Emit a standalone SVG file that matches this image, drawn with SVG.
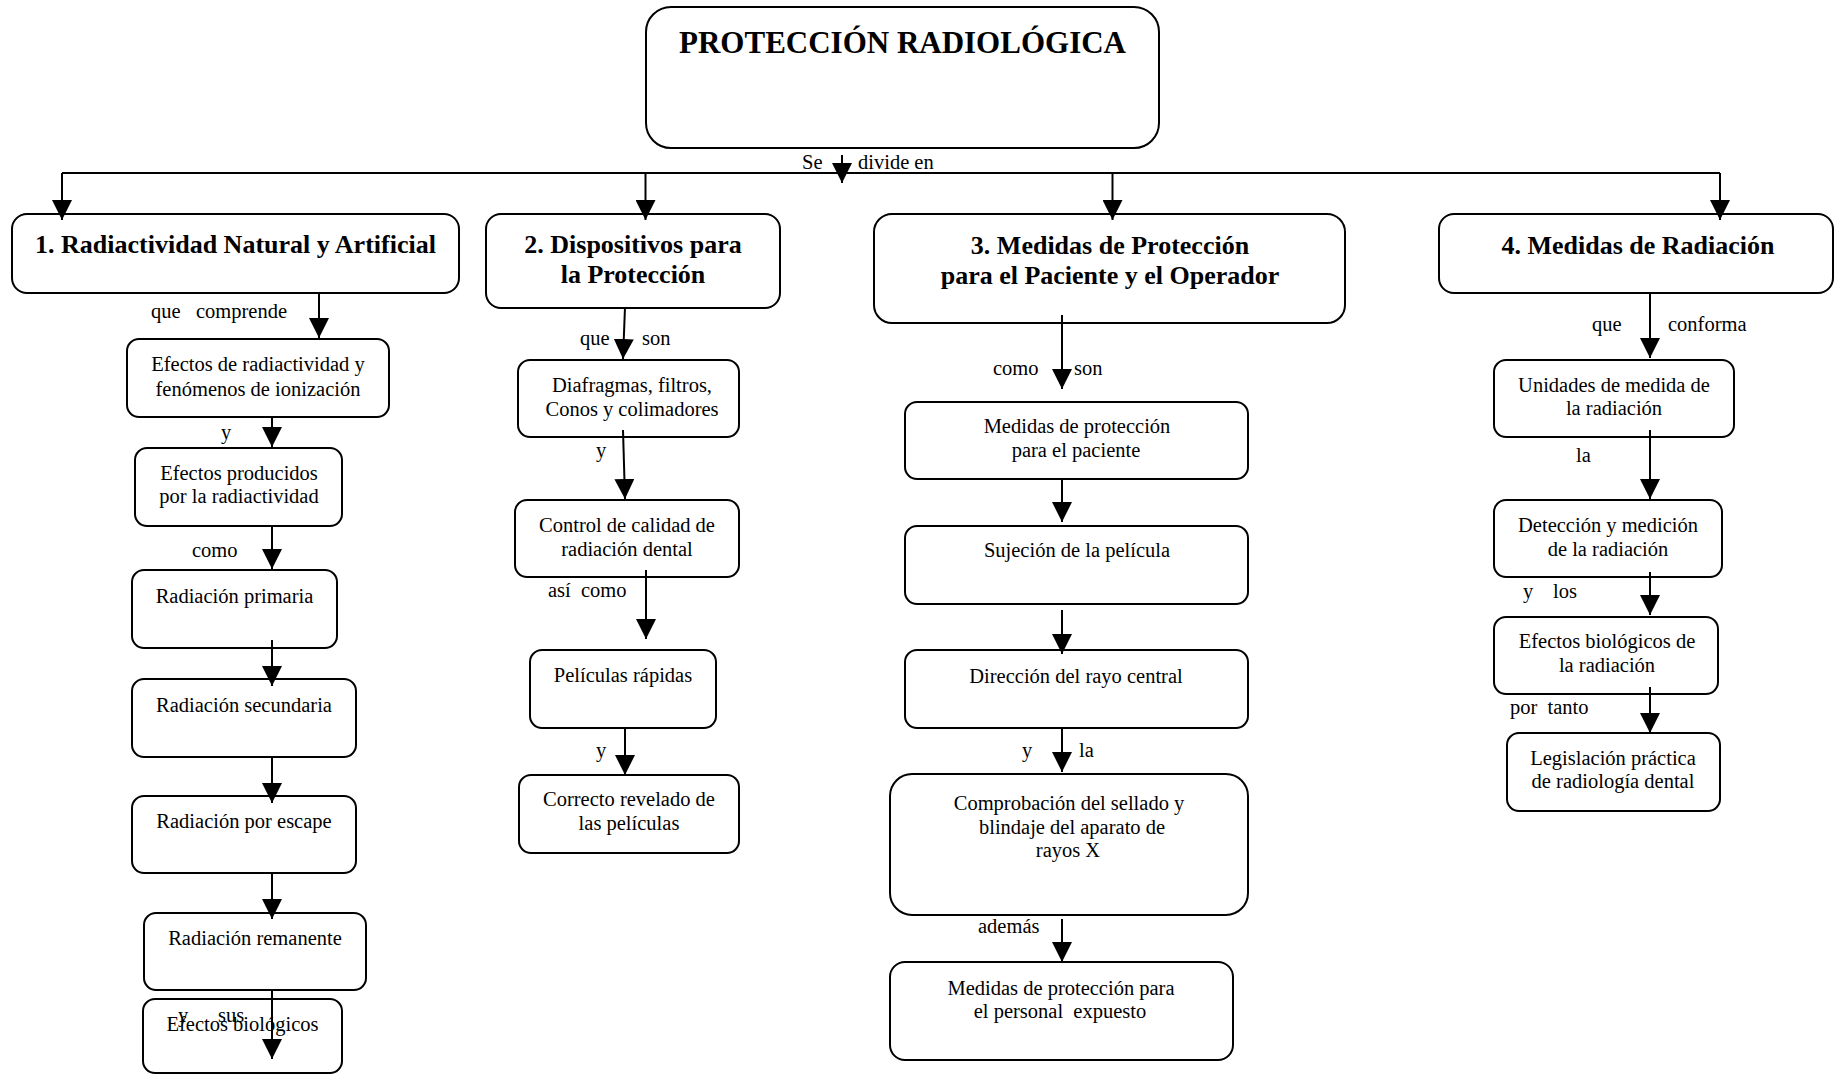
<svg xmlns="http://www.w3.org/2000/svg" width="1834" height="1075" viewBox="0 0 1834 1075">
<style>
  .box { fill: #fff; stroke: #000; stroke-width: 2; }
  .t { font-family: "Liberation Serif", "Times New Roman", serif; font-size: 20.5px; fill: #000; }
  .c { text-anchor: middle; }
  .h { font-family: "Liberation Serif", "Times New Roman", serif; font-size: 26px; font-weight: bold; text-anchor: middle; fill: #000; }
  .title { font-family: "Liberation Serif", "Times New Roman", serif; font-size: 31px; font-weight: bold; text-anchor: middle; fill: #000; }
  .ln { fill: none; stroke: #000; stroke-width: 2; }
  .ar { fill: none; stroke: #000; stroke-width: 2; marker-end: url(#ah); }
</style>
<defs>
  <marker id="ah" markerUnits="userSpaceOnUse" viewBox="0 0 20 20" refX="20" refY="10" markerWidth="20" markerHeight="20" orient="auto">
    <path d="M0,0 L20,10 L0,20 z" fill="#000"/>
  </marker>
</defs>
<rect width="1834" height="1075" fill="#fff"/>

<g id="n0"><rect class="box" x="646" y="7" width="513" height="141" rx="25"/><text class="title" x="902.5" y="53">PROTECCIÓN RADIOLÓGICA</text></g>
<g id="n1"><rect class="box" x="12" y="214" width="447" height="79" rx="15"/><text class="h" x="235.5" y="253">1. Radiactividad Natural y Artificial</text></g>
<g id="n2"><rect class="box" x="486" y="214" width="294" height="94" rx="15"/><text class="h" x="633" y="253">2. Dispositivos para</text><text class="h" x="633" y="283">la Protección</text></g>
<g id="n3"><rect class="box" x="874" y="214" width="471" height="109" rx="18"/><text class="h" x="1110" y="254">3. Medidas de Protección</text><text class="h" x="1110" y="284">para el Paciente y el Operador</text></g>
<g id="n4"><rect class="box" x="1439" y="214" width="394" height="79" rx="15"/><text class="h" x="1638" y="254">4. Medidas de Radiación</text></g>

<g id="a1"><rect class="box" x="127" y="339" width="262" height="78" rx="12"/><text class="t c" x="258" y="371">Efectos de radiactividad y</text><text class="t c" x="258" y="396">fenómenos de ionización</text></g>
<g id="a2"><rect class="box" x="135" y="448" width="207" height="78" rx="12"/><text class="t c" x="239" y="480">Efectos producidos</text><text class="t c" x="239" y="503">por la radiactividad</text></g>
<g id="a3"><rect class="box" x="132" y="570" width="205" height="78" rx="12"/><text class="t c" x="234.5" y="603">Radiación primaria</text></g>
<g id="a4"><rect class="box" x="132" y="679" width="224" height="78" rx="12"/><text class="t c" x="244" y="712">Radiación secundaria</text></g>
<g id="a5"><rect class="box" x="132" y="796" width="224" height="77" rx="12"/><text class="t c" x="244" y="828">Radiación por escape</text></g>
<g id="a6"><rect class="box" x="144" y="913" width="222" height="77" rx="12"/><text class="t c" x="255" y="945">Radiación remanente</text></g>
<g id="a7"><rect class="box" x="143" y="999" width="199" height="74" rx="12"/><text class="t c" x="242.5" y="1031">Efectos biológicos</text></g>

<g id="b1"><rect class="box" x="518" y="360" width="221" height="77" rx="12"/><text class="t c" x="632" y="392">Diafragmas, filtros,</text><text class="t c" x="632" y="416">Conos y colimadores</text></g>
<g id="b2"><rect class="box" x="515" y="500" width="224" height="77" rx="12"/><text class="t c" x="627" y="532">Control de calidad de</text><text class="t c" x="627" y="556">radiación dental</text></g>
<g id="b3"><rect class="box" x="530" y="650" width="186" height="78" rx="12"/><text class="t c" x="623" y="682">Películas rápidas</text></g>
<g id="b4"><rect class="box" x="519" y="775" width="220" height="78" rx="12"/><text class="t c" x="629" y="806">Correcto revelado de</text><text class="t c" x="629" y="830">las películas</text></g>

<g id="c1"><rect class="box" x="905" y="402" width="343" height="77" rx="12"/><text class="t c" x="1077" y="433">Medidas de protección</text><text class="t c" x="1076" y="457">para el paciente</text></g>
<g id="c2"><rect class="box" x="905" y="526" width="343" height="78" rx="12"/><text class="t c" x="1077" y="557">Sujeción de la película</text></g>
<g id="c3"><rect class="box" x="905" y="650" width="343" height="78" rx="12"/><text class="t c" x="1076" y="683">Dirección del rayo central</text></g>
<g id="c4"><rect class="box" x="890" y="774" width="358" height="141" rx="22"/><text class="t c" x="1069" y="810">Comprobación del sellado y</text><text class="t c" x="1072" y="834">blindaje del aparato de</text><text class="t c" x="1068" y="857">rayos X</text></g>
<g id="c5"><rect class="box" x="890" y="962" width="343" height="98" rx="15"/><text class="t c" x="1061" y="995">Medidas de protección para</text><text class="t c" x="1060" y="1018" xml:space="preserve">el personal  expuesto</text></g>

<g id="d1"><rect class="box" x="1494" y="360" width="240" height="77" rx="12"/><text class="t c" x="1614" y="392">Unidades de medida de</text><text class="t c" x="1614" y="415">la radiación</text></g>
<g id="d2"><rect class="box" x="1494" y="500" width="228" height="77" rx="12"/><text class="t c" x="1608" y="532">Detección y medición</text><text class="t c" x="1608" y="556">de la radiación</text></g>
<g id="d3"><rect class="box" x="1494" y="617" width="224" height="77" rx="12"/><text class="t c" x="1607" y="648">Efectos biológicos de</text><text class="t c" x="1607" y="672">la radiación</text></g>
<g id="d4"><rect class="box" x="1507" y="733" width="213" height="78" rx="12"/><text class="t c" x="1613" y="765">Legislación práctica</text><text class="t c" x="1613" y="788">de radiología dental</text></g>

<g id="connectors">
  <path class="ar" d="M842,155 V183"/>
  <path class="ln" d="M62,173 H1720"/>
  <path class="ar" d="M62,173 V220"/>
  <path class="ar" d="M645.5,173 V220"/>
  <path class="ar" d="M1112.5,173 V220"/>
  <path class="ar" d="M1720,173 V220"/>

  <path class="ar" d="M319,293 V338"/>
  <path class="ar" d="M272,417 V447"/>
  <path class="ar" d="M272,526 V569"/>
  <path class="ar" d="M272,640 V686"/>
  <path class="ar" d="M272,757 V803"/>
  <path class="ar" d="M272,873 V919"/>
  <path class="ar" d="M272,990 V1059"/>

  <path class="ar" d="M625,307 L623,359"/>
  <path class="ar" d="M623,430 L625,499"/>
  <path class="ar" d="M646,570 V639"/>
  <path class="ar" d="M625,728 V775"/>

  <path class="ar" d="M1062,315 V389"/>
  <path class="ar" d="M1062,479 V522"/>
  <path class="ar" d="M1062,610 V654"/>
  <path class="ar" d="M1062,728 V772"/>
  <path class="ar" d="M1062,919 V962"/>

  <path class="ar" d="M1650,293 V358"/>
  <path class="ar" d="M1650,430 V499"/>
  <path class="ar" d="M1650,572 V615"/>
  <path class="ar" d="M1650,687 V733"/>

  <g id="labels">
    <text class="t" x="802" y="169">Se</text>
    <text class="t" x="858" y="169">divide en</text>
    <text class="t" x="151" y="318" xml:space="preserve">que   comprende</text>
    <text class="t" x="221" y="439">y</text>
    <text class="t" x="192" y="557">como</text>
    <text class="t" x="178" y="1022">y</text>
    <text class="t" x="218" y="1022">sus</text>
    <text class="t" x="580" y="345">que</text>
    <text class="t" x="642" y="345">son</text>
    <text class="t" x="596" y="457">y</text>
    <text class="t" x="548" y="597" xml:space="preserve">así  como</text>
    <text class="t" x="596" y="757">y</text>
    <text class="t" x="993" y="375">como</text>
    <text class="t" x="1074" y="375">son</text>
    <text class="t" x="1022" y="757">y</text>
    <text class="t" x="1079" y="757">la</text>
    <text class="t" x="978" y="933">además</text>
    <text class="t" x="1592" y="331">que</text>
    <text class="t" x="1668" y="331">conforma</text>
    <text class="t" x="1576" y="462">la</text>
    <text class="t" x="1523" y="598">y</text>
    <text class="t" x="1553" y="598">los</text>
    <text class="t" x="1510" y="714" xml:space="preserve">por  tanto</text>
  </g>
</g>
</svg>
